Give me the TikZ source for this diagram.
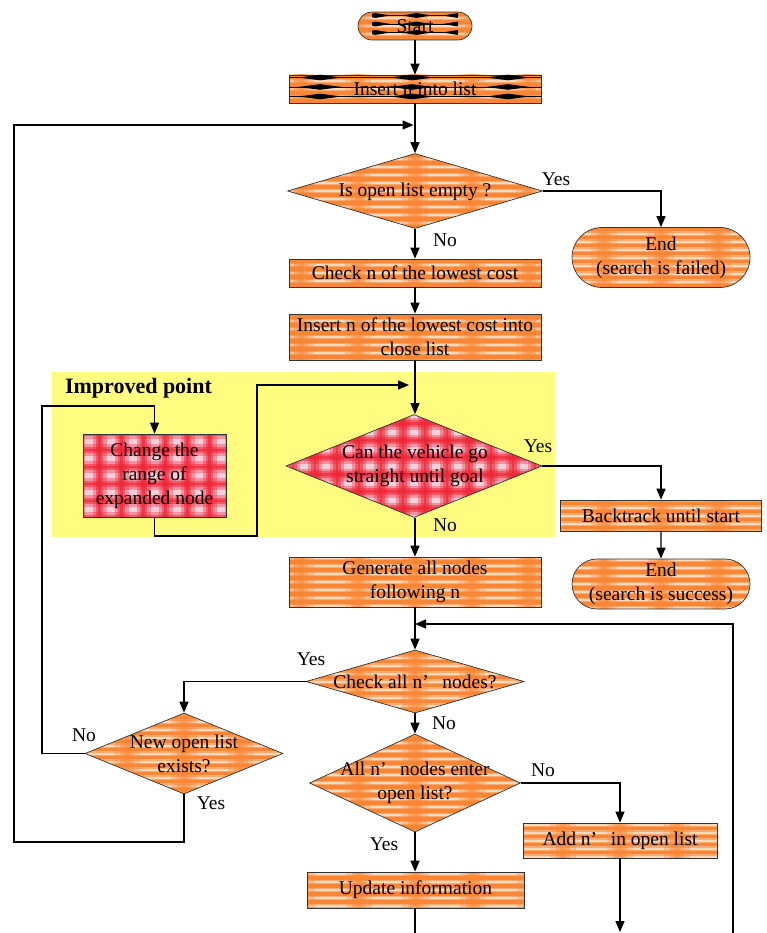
\documentclass[tikz,border=0pt]{standalone}
\usepackage{fontspec}
\setmainfont{Liberation Serif}
\usetikzlibrary{arrows.meta,shapes.geometric,shapes.misc,calc}

\definecolor{oO}{RGB}{248,134,52}
\definecolor{oW}{RGB}{255,242,232}
\definecolor{rR}{RGB}{238,36,52}
\definecolor{rW}{RGB}{246,206,218}
\definecolor{yel}{RGB}{255,252,128}

\newcommand\fs{\fontsize{19.5}{24}\selectfont}

\tikzset{
  texO/.style={path picture={
    \fill[oO] (path picture bounding box.south west) rectangle (path picture bounding box.north east);
    \coordinate (pc) at (path picture bounding box.center);
    \foreach \j in {-7,...,7}{
      \fill[oW,opacity=0.35] ($(pc)+(-200,\j*8-2.2)$) rectangle ($(pc)+(200,\j*8+2.2)$);
      \fill[oW,opacity=0.65] ($(pc)+(-200,\j*8-1)$) rectangle ($(pc)+(200,\j*8+1)$);}
    \foreach \i in {-4,...,4}{
      \fill[oO,opacity=0.3] ($(pc)+(\i*57-13,-80)$) rectangle ($(pc)+(\i*57+13,80)$);
      \fill[oO,opacity=0.4] ($(pc)+(\i*57-7,-80)$) rectangle ($(pc)+(\i*57+7,80)$);
      \fill[oO,opacity=0.4] ($(pc)+(\i*57-3,-80)$) rectangle ($(pc)+(\i*57+3,80)$);}
  }},
  texR/.style={path picture={
    \fill[rW] (path picture bounding box.south west) rectangle (path picture bounding box.north east);
    \coordinate (pc) at (path picture bounding box.center);
    \foreach \j in {-4,...,4}{
      \fill[rR,opacity=0.35] ($(pc)+(-200,\j*17+8.5-6)$) rectangle ($(pc)+(200,\j*17+8.5+6)$);
      \fill[rR,opacity=0.5] ($(pc)+(-200,\j*17+8.5-3.2)$) rectangle ($(pc)+(200,\j*17+8.5+3.2)$);
      \fill[rR,opacity=0.6] ($(pc)+(-200,\j*17+8.5-1.4)$) rectangle ($(pc)+(200,\j*17+8.5+1.4)$);}
    \foreach \i in {-7,...,7}{
      \fill[rR,opacity=0.35] ($(pc)+(\i*22+11-7,-80)$) rectangle ($(pc)+(\i*22+11+7,80)$);
      \fill[rR,opacity=0.5] ($(pc)+(\i*22+11-3.6,-80)$) rectangle ($(pc)+(\i*22+11+3.6,80)$);
      \fill[rR,opacity=0.6] ($(pc)+(\i*22+11-1.4,-80)$) rectangle ($(pc)+(\i*22+11+1.4,80)$);}
  }},
  bx/.style={draw=black!80, line width=0.7pt, inner sep=0pt, align=center, font=\fs},
  term/.style={bx, shape=rounded rectangle},
  dia/.style={draw=black!80, line width=0.7pt, shape=diamond, inner sep=0pt},
  txt/.style={inner sep=0pt, align=center, font=\fs},
  lbl/.style={inner sep=0pt, font=\fs},
  ln/.style={line width=1.3pt, black},
  arr/.style={ln, -{Triangle[length=11pt,width=9pt]}},
}

\begin{document}
\begin{tikzpicture}[x=1pt,y=-1pt]
\useasboundingbox (0,0) rectangle (766,933);
\fill[yel] (52,372) rectangle (555,537);

% nodes
\node[term,texO,minimum width=114pt,minimum height=28pt] (start) at (415,26) {};
\node[bx,texO,minimum width=252pt,minimum height=28pt] (ins) at (415,89) {};
\node[dia,texO,minimum width=255pt,minimum height=75pt] (d1) at (415,191) {};
\node[txt] (t1) at (415,192) {Is open list empty ?};
\node[term,texO,minimum width=178pt,minimum height=60pt] (end1) at (661,257.5) {End\\(search is failed)};
\node[bx,texO,minimum width=252pt,minimum height=28pt] (chk) at (415,273) {Check n of the lowest cost};
\node[bx,texO,minimum width=252pt,minimum height=46pt] (cls) at (415,337) {Insert n of the lowest cost into\\close list};
\node[font=\fontsize{22}{26}\selectfont\bfseries, inner sep=0pt] (imp) at (138.5,388) {Improved point};
\node[bx,texR,minimum width=143pt,minimum height=83pt] (chg) at (154.5,475.5) {Change the\\range of\\expanded node};
\node[dia,texR,minimum width=256pt,minimum height=103pt] (d2) at (414,466) {};
\node[txt] (t2) at (415,466) {Can the vehicle go\\straight until goal};
\node[bx,texO,minimum width=201pt,minimum height=31pt] (back) at (661,515.5) {Backtrack until start};
\node[term,texO,minimum width=178pt,minimum height=50pt] (end2) at (661,584) {End\\(search is success)};
\node[bx,texO,minimum width=252pt,minimum height=50pt] (gen) at (415,582) {Generate all nodes\\following n};
\node[dia,texO,minimum width=218pt,minimum height=63pt] (d3) at (415,681.5) {};
\node[txt] (t3) at (415,682) {Check all n’\hspace{0.45em} nodes?};
\node[dia,texO,minimum width=198pt,minimum height=81pt] (nl) at (184,753.5) {};
\node[txt] (t5) at (184,754) {New open list\\exists?};
\node[dia,texO,minimum width=211pt,minimum height=98pt] (d4) at (415,783) {};
\node[txt] (t4) at (415,783) {All n’\hspace{0.45em} nodes enter\\open list?};
\node[bx,texO,minimum width=194pt,minimum height=35pt] (add) at (620,840.5) {Add n’\hspace{0.45em} in open list};
\node[bx,texO,minimum width=217pt,minimum height=36pt] (upd) at (415.5,890) {Update information};

% black marks on the first two boxes
\begin{scope}
  \clip (start.north west) rectangle (start.south east);
  \foreach \yy in {15.5,24,32.5}{
    \draw[line width=0.6pt] (358,\yy) -- (472,\yy);
    \foreach \xx in {375.5,416.5,457.5}{
      \fill (\xx-15,\yy) -- (\xx,\yy-2.4) -- (\xx+15,\yy) -- (\xx,\yy+2.4) -- cycle;}}
\end{scope}
\node[txt] (tstart) at (415,26) {Start};
\begin{scope}
  \clip (ins.north west) rectangle (ins.south east);
  \foreach \yy in {77.5,87,96.5}{
    \draw[line width=0.6pt] (289,\yy) -- (541,\yy);
    \foreach \xx in {320,412,508}{
      \fill (\xx-22,\yy) -- (\xx,\yy-2.8) -- (\xx+22,\yy) -- (\xx,\yy+2.8) -- cycle;}}
\end{scope}
\node[txt] (tins) at (415,89) {Insert n into list};

% coordinates
\coordinate (j1) at (415,125);
\coordinate (lb) at (14,842);
\coordinate (j2) at (415,385);
\coordinate (w2) at (257,536);
\coordinate (w3) at (42,406);
\coordinate (j3) at (415,624);
\coordinate (b1) at (620,932);
\coordinate (b2) at (415,933);
\coordinate (b3) at (733,933);

% connectors
\draw[arr] (start) -- (ins);
\draw[arr] (ins) -- (d1);
\draw[arr,shorten >=1.5pt] (nl.south) |- (lb) |- (j1);
\draw[arr] (d1.east) -| (end1.north);
\draw[arr] (d1) -- (chk);
\draw[arr] (chk) -- (cls);
\draw[arr] (cls.south) -- (d2.north -| cls.south);
\draw[arr,shorten >=6pt] (chg.south) |- (w2) |- (j2);
\draw[arr] (d2.east) -| (back.north);
\draw[arr] (back) -- (end2);
\draw[arr] (d2.south -| gen.north) -- (gen.north);
\draw[arr] (gen) -- (d3);
\draw[arr] (b3) |- (j3);
\draw[arr] (d3.west) -| (nl.north);
\draw[arr] (nl.west) -| (w3) -| (chg.north);
\draw[arr] (d3) -- (d4);
\draw[arr] (d4.east) -| (add.north);
\draw[arr] (d4.south) -- (upd.north -| d4.south);
\draw[arr] (add) -- (b1);
\draw[ln] (upd.south -| b2) -- (b2);

% labels
\node[lbl] (y1) at (556,179) {Yes};
\node[lbl] (n1) at (445,240) {No};
\node[lbl] (y2) at (538,446) {Yes};
\node[lbl] (n2) at (445,525) {No};
\node[lbl] (y3) at (311,659) {Yes};
\node[lbl] (n3) at (444,723) {No};
\node[lbl] (n4) at (543,770) {No};
\node[lbl] (y4) at (384,844) {Yes};
\node[lbl] (n5) at (84,735) {No};
\node[lbl] (y5) at (211,803) {Yes};
\end{tikzpicture}
\end{document}
